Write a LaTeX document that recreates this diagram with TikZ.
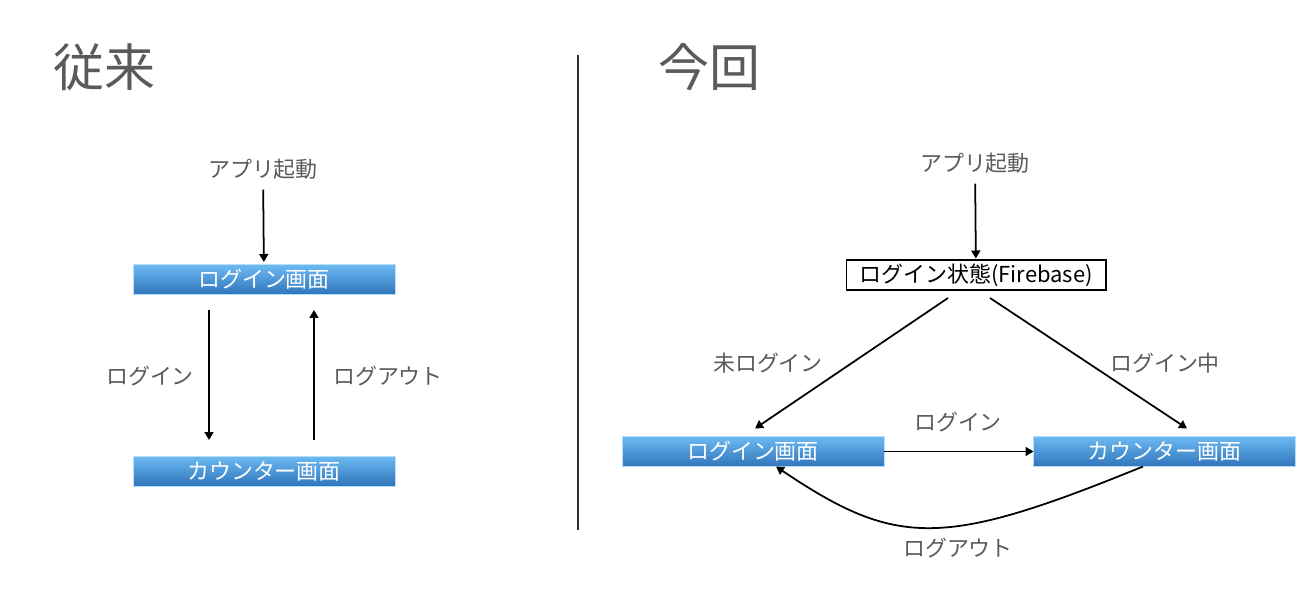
\documentclass[tikz,border=0pt]{standalone}
\usepackage{fontspec}
\setmainfont{Noto Sans CJK JP}
\usetikzlibrary{arrows.meta, positioning}
\definecolor{txtgray}{HTML}{5A5A5A}
\definecolor{boxtop}{HTML}{6DBAF3}
\definecolor{boxbot}{HTML}{2F75BB}

\begin{document}
\begin{tikzpicture}[
x = 0.02cm, y = -0.02cm,
 title/.style = {font=\fontsize{29}{32}\selectfont, text=txtgray,
                 inner sep=0pt},
   lbl/.style = {font=\fontsize{12.5}{14}\selectfont, text=txtgray,
                 inner sep=0pt},
   box/.style = {minimum width=5.24cm, minimum height=6mm,
                 inner sep=0pt, outer sep=0pt,
                 top color=boxtop, bottom color=boxbot,
                 draw=boxtop!50, line width=0.4pt, text=white,
                 font=\fontsize{12.5}{14}\selectfont},
 state/.style = {draw, line width=0.6pt, minimum width=5.2cm,
                 minimum height=6mm, inner sep=0pt, outer sep=0pt,
                 font=\fontsize{12.5}{14}\selectfont},
   arr/.style = {line width=1pt,
                 -{Triangle[length=1.6mm,width=1.8mm]}}
                        ]
\useasboundingbox (0,0) rectangle (1300,604);
    % left: before
\node (title1) [title] at (104,67)    {従来};
\node (start1) [lbl]   at (263,169)   {アプリ起動};
\node (login1) [box]   at (264,279.5) {ログイン画面};
\node (count1) [box]   at (264,471)   {カウンター画面};
\node (in1)    [lbl]   at (150,376)   {ログイン};
\node (out1)   [lbl]   at (388,376)   {ログアウト};
\draw[arr, shorten <=2mm, shorten >=0.5mm] (start1) -- (login1);
\draw[arr] ([xshift=-1.1cm,yshift=-3.1mm]login1.south)
        -- ([xshift=-1.1cm,yshift=3.2mm]count1.north);
\draw[arr] ([xshift=1cm,yshift=3.2mm]count1.north)
        -- ([xshift=1cm,yshift=-3.1mm]login1.south);
    % divider
\draw[line width=1.1pt, black!80] (578,55) -- (578,530);
    % right: now
\node (title2) [title] at (709,67)    {今回};
\node (start2) [lbl]   at (975,163)   {アプリ起動};
\node (state)  [state] at (976,275)   {ログイン状態(Firebase)};
\node (login2) [box]   at (753,451.5) {ログイン画面};
\node (count2) [box]   at (1164.5,451.5) {カウンター画面};
\node (nolog)  [lbl]   at (768,363)   {未ログイン};
\node (inlog)  [lbl]   at (1165,363)  {ログイン中};
\node (in2)    [lbl]   at (958,422)   {ログイン};
\node (out2)   [lbl]   at (958,548)   {ログアウト};
\draw[arr, shorten <=2mm, shorten >=0.3mm] (start2) -- (state);
\draw[arr] ([xshift=-0.56cm,yshift=-1.6mm]state.south)
        -- ([xshift=0.04cm,yshift=1.6mm]login2.north);
\draw[arr] ([xshift=0.28cm,yshift=-1.6mm]state.south)
        -- ([xshift=0.45cm,yshift=1.6mm]count2.north);
\draw[arr] (login2.east) -- (count2.west);
\draw[arr] ([xshift=-0.43cm]count2.south)
        .. controls (943,548) and (897,548) .. ([xshift=0.46cm]login2.south);
\end{tikzpicture}
\end{document}
